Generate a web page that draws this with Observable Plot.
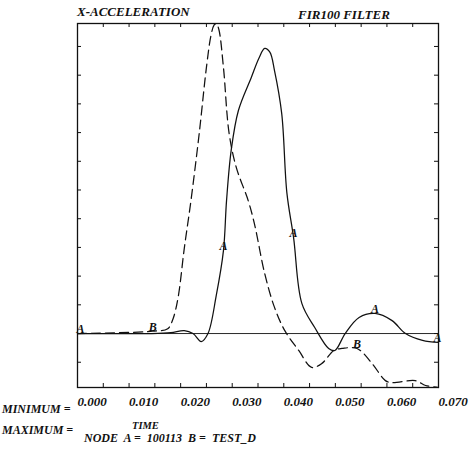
<!DOCTYPE html>
<html><head><meta charset="utf-8">
<script src="https://cdn.jsdelivr.net/npm/d3@7"></script>
<script src="https://cdn.jsdelivr.net/npm/@observablehq/plot@0.6"></script>
<style>
body{margin:0;background:#fff}
#wrap{width:475px;height:453px}
</style></head><body><div id="wrap"></div>
<script>
// Series A (solid, node 100113)
const timeA = [0,0.0142,0.0181,0.0207,0.0224,0.0240,0.0253,0.0269,0.0283,0.0289,0.0298,0.0312,0.0337,0.0352,0.0363,0.0373,0.0382,0.0396,0.0406,0.0419,0.0435,0.0460,0.0487,0.0499,0.0519,0.0546,0.0577,0.0610,0.0636,0.0669,0.0700];
const accelA = [0,0,0.03,0.10,0,-0.28,0,1.32,2.89,4.63,6.38,7.77,8.92,9.6,9.93,9.8,9.16,7.66,4.9,3.34,1.05,0.21,-0.52,-0.59,0,0.56,0.70,0.45,0,-0.24,-0.31];
// Series B (dashed, TEST_D)
const timeB = [0,0.0146,0.0175,0.0185,0.0195,0.0207,0.0220,0.0236,0.0250,0.0259,0.0265,0.0269,0.0274,0.0283,0.0294,0.0308,0.0331,0.0343,0.0363,0.0382,0.0402,0.0429,0.0454,0.0474,0.0497,0.0513,0.0542,0.0571,0.0597,0.0610,0.0655,0.0675,0.0700];
const accelB = [0,0.08,0.17,0.5,1.25,2.96,4.63,6.97,9.27,10.4,10.75,10.8,10.6,9.27,6.97,5.78,4.63,3.83,2.09,0.91,0.1,-0.59,-1.18,-1.04,-0.59,-0.52,-0.52,-1.04,-1.64,-1.71,-1.64,-1.81,-1.88];
// Curve identifier letters placed along each series
const labelTimesA = [0.0006,0.0283,0.0419,0.0577,0.0698];
const labelTimesB = [0.0146,0.0542];
const xTickLabels = [0,0.01,0.02,0.03,0.04,0.05,0.06,0.07];
const xMinorTicks = d3.range(0,0.0701,0.005);
const yTicks = d3.range(-1,11,1);
const titleLeft = "X-ACCELERATION";
const titleRight = "FIR100 FILTER";
const footLines = ["MINIMUM =","MAXIMUM =","TIME","NODE  A =  100113  B =  TEST_D"];

const ptsA = timeA.map((t,i)=>({t, v:accelA[i]}));
const ptsB = timeB.map((t,i)=>({t, v:accelB[i]}));
const interp = (ts, vs, t) => {
  const i = Math.max(1, Math.min(ts.length-1, d3.bisectLeft(ts, t)));
  const f = (t - ts[i-1])/(ts[i]-ts[i-1]);
  return vs[i-1] + f*(vs[i]-vs[i-1]);
};
const labels = [
  ...labelTimesA.map(t=>({t, v:interp(timeA,accelA,t), s:"A"})),
  ...labelTimesB.map(t=>({t, v:interp(timeB,accelB,t), s:"B"}))
];
const ink = "#111";
const font = {fontFamily:'"Liberation Serif","DejaVu Serif",serif', fontWeight:"bold", fontStyle:"italic"};
const W = 475, H = 453, mT = 23, mB = 66, mL = 77, mR = 37;
const innerW = W - mL - mR, innerH = H - mT - mB, tk = 4;

const chart = Plot.plot({
  width:W, height:H,
  marginTop:mT, marginBottom:mB, marginLeft:mL, marginRight:mR,
  style:{...font, fontSize:"12px", color:ink, background:"#fff"},
  x:{domain:[0,0.07], label:null},
  y:{domain:[-1.88,10.8], label:null},
  marks:[
    Plot.ruleY([0],{stroke:ink, strokeWidth:0.9}),
    Plot.line(ptsA,{x:"t", y:"v", curve:"catmull-rom", stroke:ink, strokeWidth:1.25}),
    Plot.line(ptsB,{x:"t", y:"v", curve:"catmull-rom", stroke:ink, strokeWidth:1.25, strokeDasharray:"9,5"}),
    Plot.text(labels,{x:"t", y:"v", text:"s", dy:-4, fill:ink, fontSize:12}),
    Plot.frame({stroke:ink, strokeWidth:1.3}),
    Plot.tickX(xMinorTicks,{x:d=>d, insetTop:innerH-tk, stroke:ink}),
    Plot.tickX(xMinorTicks,{x:d=>d, insetBottom:innerH-tk, stroke:ink}),
    Plot.tickY(yTicks,{y:d=>d, insetRight:innerW-tk, stroke:ink}),
    Plot.tickY(yTicks,{y:d=>d, insetLeft:innerW-tk, stroke:ink}),
    Plot.axisY({ticks:[], label:null}),
    Plot.axisX({anchor:"bottom", ticks:xTickLabels, tickSize:0, tickPadding:9, tickFormat:d3.format(".3f"), textAnchor:"start", fill:ink, fontSize:13, label:null})
  ]
});
document.getElementById("wrap").appendChild(chart);

const svg = d3.select(chart);
const addText = (x, y, s, size) => svg.append("text").attr("x",x).attr("y",y)
  .attr("text-anchor","start")
  .attr("font-family",font.fontFamily).attr("font-weight","bold").attr("font-style","italic")
  .attr("font-size",size).attr("fill",ink).attr("xml:space","preserve").text(s);
addText(77,16,titleLeft,13);
addText(298,19,titleRight,13);
addText(2,413,footLines[0],12);
addText(2,434,footLines[1],12);
addText(132,429,footLines[2],10.5);
addText(84,442,footLines[3],12);
</script></body></html>
